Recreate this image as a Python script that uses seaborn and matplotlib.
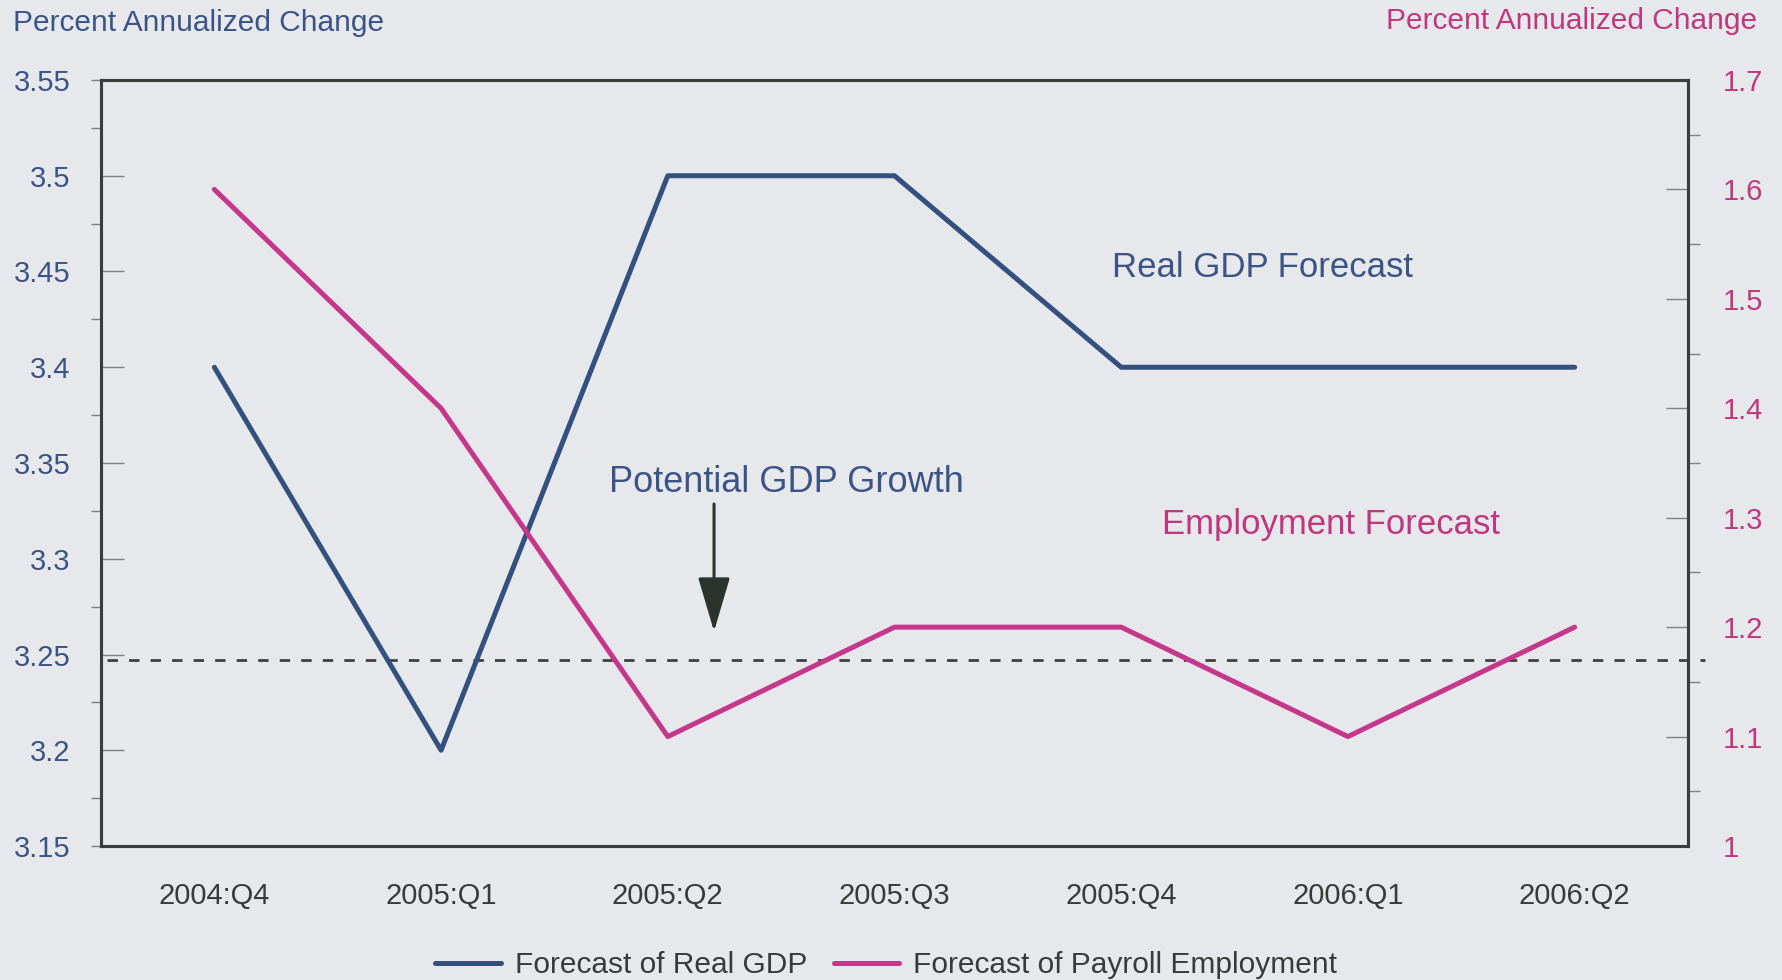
import matplotlib
matplotlib.use("Agg")
import matplotlib.pyplot as plt
import matplotlib.lines as mlines
import seaborn as sns
import pandas as pd
from matplotlib.ticker import FixedLocator

# Quarterly forecasts
quarters = ["2004:Q4", "2005:Q1", "2005:Q2", "2005:Q3", "2005:Q4", "2006:Q1", "2006:Q2"]
real_gdp = [3.4, 3.2, 3.5, 3.5, 3.4, 3.4, 3.4]
payroll_employment = [1.6, 1.4, 1.1, 1.2, 1.2, 1.1, 1.2]
potential_gdp_growth = 3.247

# Axis ticks and labels
left_ticks = [3.15, 3.2, 3.25, 3.3, 3.35, 3.4, 3.45, 3.5, 3.55]
left_labels = ["3.15", "3.2", "3.25", "3.3", "3.35", "3.4", "3.45", "3.5", "3.55"]
left_minor = [3.15, 3.175, 3.225, 3.275, 3.325, 3.375, 3.425, 3.475, 3.525, 3.55]
right_ticks = [1.0, 1.1, 1.2, 1.3, 1.4, 1.5, 1.6, 1.7]
right_labels = ["1", "1.1", "1.2", "1.3", "1.4", "1.5", "1.6", "1.7"]
right_minor = [1.05, 1.15, 1.25, 1.35, 1.45, 1.55, 1.65]

BLUE = "#34507f"
MAGENTA = "#c4378a"
TEXT_BLUE = "#3b5486"
TEXT_MAGENTA = "#c0367f"
DARK = "#3a3a3a"
BG = "#e7e8eb"
TICK = "#808080"

sns.set_style("white")
plt.rcParams["font.family"] = ["Liberation Sans", "DejaVu Sans"]
plt.rcParams["ytick.direction"] = "in"

df = pd.DataFrame({
    "pos": range(len(quarters)),
    "quarter": quarters,
    "gdp": real_gdp,
    "emp": payroll_employment,
})

fig = plt.figure(figsize=(17.83, 9.80), dpi=100, facecolor=BG)
ax = fig.add_axes([101 / 1783, 1 - 846 / 980, (1688 - 101) / 1783, (846 - 80) / 980])
ax.set_facecolor(BG)
ax2 = ax.twinx()
ax2.patch.set_visible(False)

sns.lineplot(data=df, x="pos", y="gdp", ax=ax, color=BLUE, linewidth=3.6,
             solid_capstyle="round", label="Forecast of Real GDP", legend=False)
sns.lineplot(data=df, x="pos", y="emp", ax=ax2, color=MAGENTA, linewidth=3.6,
             solid_capstyle="round", label="Forecast of Payroll Employment", legend=False)

# Potential growth reference line, running slightly past the right frame
ax.axhline(potential_gdp_growth, xmin=0.004, xmax=1.011, color="#404040",
           linewidth=2.0, linestyle=(0, (7.5 / 2.0, 8.0 / 2.0)), clip_on=False, zorder=1)

ax.set_xlim(-0.5, len(quarters) - 0.5)
ax.set_ylim(left_ticks[0], left_ticks[-1])
ax2.set_ylim(right_ticks[0], right_ticks[-1])

ax.set_xticks(df["pos"])
ax.set_xticklabels(quarters)
ax.tick_params(axis="x", length=0, pad=26, labelsize=21, labelcolor=DARK)

ax.yaxis.remove_overlapping_locs = False
ax.set_yticks(left_ticks)
ax.set_yticklabels(left_labels)
ax.yaxis.set_minor_locator(FixedLocator(left_minor))
ax.tick_params(axis="y", which="major", direction="in", length=16.5, width=1.0,
               color=TICK, pad=22, labelsize=21, labelcolor=TEXT_BLUE, left=True)
ax.tick_params(axis="y", which="minor", direction="out", length=7, width=1.0,
               color=TICK, left=True)

ax2.set_yticks(right_ticks)
ax2.set_yticklabels(right_labels)
ax2.yaxis.set_minor_locator(FixedLocator(right_minor))
ax2.tick_params(axis="y", which="major", direction="in", length=16, width=1.0,
                color=TICK, pad=25, labelsize=21, labelcolor=TEXT_MAGENTA, right=True)
ax2.tick_params(axis="y", which="minor", direction="out", length=8.5, width=1.0,
                color=TICK, right=True)

# Left major ticks point into the plot, minor ones outward
for t in ax.yaxis.get_major_ticks():
    t.tick1line.set_marker(mlines.TICKRIGHT)
for t in ax.yaxis.get_minor_ticks():
    t.tick1line.set_marker(mlines.TICKLEFT)

ax.set_xlabel("")
ax.set_ylabel("")
ax2.set_ylabel("")

for a in (ax, ax2):
    for s in a.spines.values():
        s.set_visible(True)
        s.set_color("#3c3c3c")
        s.set_linewidth(2.2)

# Axis titles
fig.text(13 / 1783, 1 - 23 / 980, "Percent Annualized Change", color=TEXT_BLUE,
         fontsize=21.5, ha="left", va="center")
fig.text(1757 / 1783, 1 - 21 / 980, "Percent Annualized Change", color=TEXT_MAGENTA,
         fontsize=21.5, ha="right", va="center")

# In-plot labels
ax.text(3.96, 3.452, "Real GDP Forecast", color=TEXT_BLUE, fontsize=25,
        ha="left", va="center")
ax.text(4.18, 3.318, "Employment Forecast", color=TEXT_MAGENTA, fontsize=25,
        ha="left", va="center")
ax.text(1.74, 3.3396, "Potential GDP Growth", color=TEXT_BLUE, fontsize=26,
        ha="left", va="center")
ax.annotate("", xy=(2.204, 3.262), xytext=(2.204, 3.3286),
            arrowprops=dict(arrowstyle="-|>,head_length=1.7,head_width=0.5",
                            mutation_scale=20, color="#2b332c", linewidth=2.2,
                            shrinkA=0, shrinkB=0))

handles = ax.get_lines()[:1] + ax2.get_lines()[:1]
fig.legend(handles, [h.get_label() for h in handles], loc="center",
           bbox_to_anchor=(0.497, 1 - 965 / 980), ncol=2, frameon=False,
           fontsize=21.5, handlelength=2.2, handletextpad=0.45,
           columnspacing=0.9, labelcolor=DARK)

fig.savefig("out.png", dpi=100, facecolor=BG)
